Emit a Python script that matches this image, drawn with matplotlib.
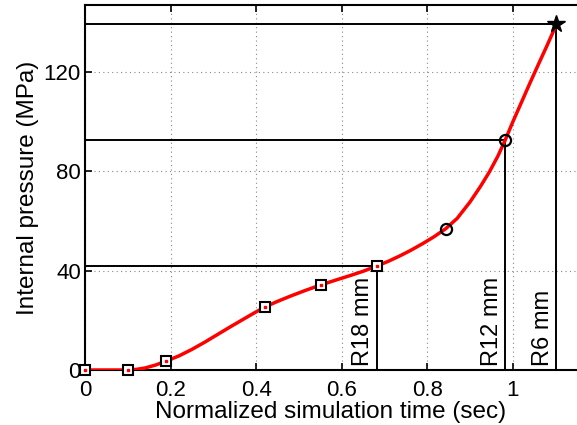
import matplotlib
matplotlib.use("Agg")
import matplotlib.pyplot as plt

plt.rcParams['font.family'] = ['Liberation Sans', 'DejaVu Sans']

# Pressure curve
curve_t = [0, 0.05, 0.10, 0.12, 0.14, 0.165, 0.19, 0.22, 0.25, 0.28, 0.31, 0.34,
           0.37, 0.395, 0.42, 0.45, 0.48, 0.515, 0.551, 0.585, 0.62, 0.65, 0.682,
           0.71, 0.736, 0.76, 0.79, 0.815, 0.843, 0.87, 0.90, 0.925, 0.945, 0.965,
           0.982, 1.0, 1.02, 1.04, 1.06, 1.08, 1.102]
curve_p = [0, 0, 0, 0.25, 0.8, 2.0, 3.6, 5.7, 8.3, 11.2, 14.3, 17.4,
           20.4, 22.9, 25.3, 27.6, 29.7, 32.0, 34.2, 36.1, 38.0, 39.7, 41.8,
           43.8, 45.9, 48.0, 50.9, 53.5, 56.8, 61.0, 67.6, 74.0, 79.6, 86.0,
           92.4, 99.8, 107.6, 115.4, 123.0, 130.5, 139.0]

# Markers
sq_t = [0.0, 0.10, 0.19, 0.42, 0.551, 0.682]
sq_p = [0.0, 0.0, 3.6, 25.3, 34.2, 41.8]
circ_t = [0.843, 0.982]
circ_p = [56.8, 92.4]
star_t = [1.102]
star_p = [139.0]

# Reference lines for radii
ref_labels = ["R18 mm", "R12 mm", "R6 mm"]
ref_t = [0.682, 0.982, 1.102]
ref_p = [41.8, 92.4, 139.0]

xticks = [0, 0.2, 0.4, 0.6, 0.8, 1.0]
xticklabels = ["0", "0.2", "0.4", "0.6", "0.8", "1"]
yticks = [0, 40, 80, 120]

fig = plt.figure(figsize=(5.77, 4.25), dpi=100)
ax = fig.add_axes([85/577, 55/425, 492/577, 365/425])
ax.set_xlim(0, 1.15)
ax.set_ylim(0, 146.8)

ax.grid(True, linestyle=(0, (1, 3)), color='#888888', linewidth=0.8)
ax.set_axisbelow(True)

for lab, t, p in zip(ref_labels, ref_t, ref_p):
    ax.plot([0, t], [p, p], color='black', lw=1.4, zorder=2)
    ax.plot([t, t], [0, p], color='black', lw=1.4, zorder=2)
    ax.text(t - 0.006, 1.6, lab, rotation=90, ha='right', va='bottom',
            fontsize=17, zorder=3)

ax.plot(curve_t, curve_p, color='#ff0000', lw=2.5, zorder=4,
        solid_capstyle='round', solid_joinstyle='round')
ax.plot(sq_t, sq_p, linestyle='none', marker='s', ms=6.5, mfc='white', mec='black',
        mew=1.5, zorder=5, clip_on=False)
ax.plot(sq_t, sq_p, linestyle='none', marker='s', ms=1.8, mfc='red', mec='red',
        zorder=6, clip_on=False)
ax.plot(circ_t, circ_p, linestyle='none', marker='o', ms=8, mfc='none', mec='black',
        mew=1.6, zorder=5)
ax.plot(star_t, star_p, linestyle='none', marker='*', ms=13, mfc='black', mec='black',
        zorder=5)

ax.set_xticks(xticks)
ax.set_xticklabels(xticklabels)
ax.set_yticks(yticks)
ax.tick_params(direction='in', length=5, width=1.2, labelsize=16, top=True,
               right=False)
ax.tick_params(axis='x', pad=7)
ax.tick_params(axis='y', pad=3)
for s in ['left', 'bottom', 'top']:
    ax.spines[s].set_linewidth(1.5)
ax.spines['right'].set_visible(False)

ax.set_xlabel("Normalized simulation time (sec)", fontsize=17.5, labelpad=0)
ax.set_ylabel("Internal pressure (MPa)", fontsize=17.5, labelpad=3)

fig.savefig("out.png", dpi=100)
